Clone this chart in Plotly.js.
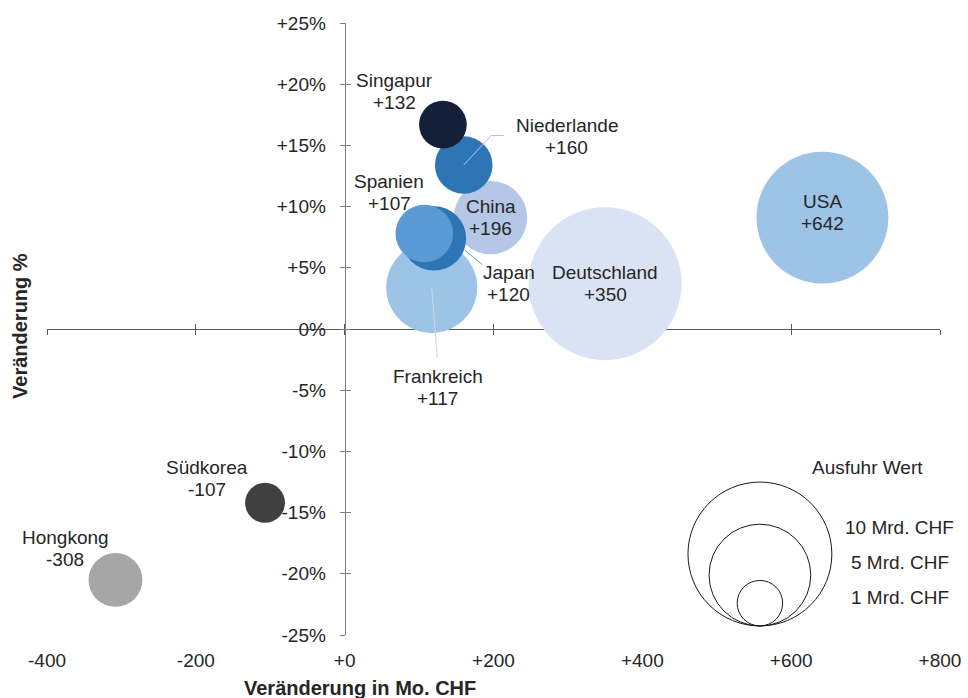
<!DOCTYPE html>
<html><head><meta charset="utf-8">
<script src="https://cdn.plot.ly/plotly-3.0.1.min.js"></script>
<style>html,body{margin:0;padding:0;background:#fff}#chart{width:968px;height:698px}</style>
</head><body><div id="chart"></div>
<script>
// ---- data ----
const countries     = ['Deutschland','USA','Frankreich','China','Niederlande','Japan','Spanien','Singapur','Hongkong','Südkorea'];
const changeMioCHF  = [350, 642, 117, 196, 160, 120, 107, 132, -308, -107];
const changePct     = [3.7, 9.1, 3.4, 9.1, 13.4, 7.4, 7.8, 16.7, -20.5, -14.2];
const exportMrdCHF  = [11.3, 8.4, 4.0, 2.6, 1.6, 2.0, 1.6, 1.1, 1.4, 0.77];
const bubbleColors  = ['#dae3f3','#9dc3e6','#9dc3e6','#b4c7e7','#2e75b6','#2e75b6','#5b9bd5','#141f38','#a6a6a6','#404040'];
const xTickVals = [-400,-200,0,200,400,600,800];
const xTickText = ['-400','-200','+0','+200','+400','+600','+800'];
const yTickVals = [-25,-20,-15,-10,-5,0,5,10,15,20,25];
const yTickText = ['-25%','-20%','-15%','-10%','-5%','0%','+5%','+10%','+15%','+20%','+25%'];
const legendValues = [10,5,1];
const legendLabels = ['10 Mrd. CHF','5 Mrd. CHF','1 Mrd. CHF'];

// ---- layout / styling constants ----
const FONT = 'Liberation Sans, Arial, sans-serif';
const TXT = '#262626';
const PX_PER_SQRT_MRD = 45.5;           // bubble diameter in px for 1 Mrd CHF
// label offsets (px, right / down) relative to each bubble centre
const labelDx = [0, 0, 6, 0, 103, 75, -35, -48, -50, -58];
const labelDy = [0, -5, 100, 0, -28, 45, -41, -33, -31, -24];
const LINE_GAP = 11;
const legendAnchorX = 558, legendAnchorY = -24.26;

const fmt = v => (v > 0 ? '+' + v : String(v));

const traces = [{
  type: 'scatter', mode: 'markers',
  x: changeMioCHF, y: changePct, text: countries,
  marker: {
    size: exportMrdCHF, sizemode: 'area', sizeref: 2 / (PX_PER_SQRT_MRD * PX_PER_SQRT_MRD),
    color: bubbleColors, opacity: 1, line: {width: 0}
  },
  hoverinfo: 'text', showlegend: false, cliponaxis: false
},
{type:'scatter', x: [], y: [], xaxis: 'x2', yaxis: 'y', showlegend: false, hoverinfo: 'skip'},
{type:'scatter', x: [], y: [], xaxis: 'x3', yaxis: 'y', showlegend: false, hoverinfo: 'skip'},
{type:'scatter', x: [], y: [], xaxis: 'x', yaxis: 'y2', showlegend: false, hoverinfo: 'skip'}];

const annotations = [];
countries.forEach((c, i) => {
  const base = {x: changeMioCHF[i], y: changePct[i], xref: 'x', yref: 'y', showarrow: false,
    xanchor: 'center', yanchor: 'middle', font: {family: FONT, size: 19, color: TXT}, xshift: labelDx[i]};
  annotations.push(Object.assign({}, base, {text: c, yshift: -labelDy[i] + LINE_GAP}));
  annotations.push(Object.assign({}, base, {text: fmt(changeMioCHF[i]), yshift: -labelDy[i] - LINE_GAP}));
});
// axis titles
annotations.push({text: '<b>Veränderung in Mo. CHF</b>', xref: 'paper', yref: 'paper', x: 0.3505, y: -0.0866,
  showarrow: false, xanchor: 'center', yanchor: 'middle', font: {family: FONT, size: 20, color: TXT}});
annotations.push({text: '<b>Veränderung %</b>', xref: 'paper', yref: 'paper', x: -0.0302, y: 0.505, textangle: -90,
  showarrow: false, xanchor: 'center', yanchor: 'middle', font: {family: FONT, size: 20, color: TXT}});
// size legend texts
annotations.push({text: 'Ausfuhr Wert', x: legendAnchorX, y: legendAnchorY, xref: 'x', yref: 'y', xshift: 108, yshift: 158,
  showarrow: false, xanchor: 'center', yanchor: 'middle', font: {family: FONT, size: 19, color: TXT}});
const legendShiftY = [98, 63, 28];
legendLabels.forEach((t, i) => annotations.push({text: t, x: legendAnchorX, y: legendAnchorY, xref: 'x', yref: 'y',
  xshift: 140, yshift: legendShiftY[i], showarrow: false, xanchor: 'center', yanchor: 'middle',
  font: {family: FONT, size: 19, color: TXT}}));

const shapes = [];
// size legend circles, bottoms aligned
legendValues.forEach(v => {
  const d = PX_PER_SQRT_MRD * Math.sqrt(v);
  shapes.push({type: 'circle', xref: 'x', yref: 'y', xsizemode: 'pixel', ysizemode: 'pixel',
    xanchor: legendAnchorX, yanchor: legendAnchorY, x0: -d / 2, x1: d / 2, y0: 0, y1: d,
    line: {color: '#1a1a1a', width: 1}, fillcolor: 'rgba(0,0,0,0)'});
});
// leader lines (pixel offsets relative to the bubble centre, y up)
function leader(name, x0, y0, x1, y1, color) {
  const i = countries.indexOf(name);
  shapes.push({type: 'line', xref: 'x', yref: 'y', xsizemode: 'pixel', ysizemode: 'pixel',
    xanchor: changeMioCHF[i], yanchor: changePct[i], x0, y0, x1, y1, line: {color, width: 1}});
}
leader('Niederlande', 0, 0, 27.5, 29.5, '#b4c7e7');
leader('Niederlande', 27.5, 29.5, 40, 29.5, '#bfbfbf');
leader('Japan', 31, -12, 48, -26, '#5b9bd5');
leader('Frankreich', 0, 0, 5.5, -70.5, '#c9d6ea');

const axisGray = '#7f7f7f';
const layout = {
  width: 968, height: 698,
  margin: {l: 47, r: 28, t: 23, b: 63},
  paper_bgcolor: '#fff', plot_bgcolor: '#fff',
  font: {family: FONT, size: 19, color: TXT},
  showlegend: false,
  xaxis: {range: [-400, 800], domain: [0, 1], anchor: 'y', showgrid: false, zeroline: false, showline: false,
    tickvals: xTickVals, ticktext: xTickText, ticks: 'outside', ticklen: 8, tickcolor: 'rgba(0,0,0,0)',
    tickfont: {family: FONT, size: 19, color: TXT}, fixedrange: true},
  xaxis2: {range: [-400, 800], overlaying: 'x', anchor: 'free', position: 0.5, showgrid: false, zeroline: false,
    showline: false, tickvals: xTickVals, showticklabels: false, ticks: 'outside', ticklen: 5, tickcolor: '#595959',
    layer: 'below traces'},
  xaxis3: {range: [-400, 800], overlaying: 'x', anchor: 'free', position: 0.5, showgrid: false, zeroline: false,
    showline: false, tickvals: xTickVals, showticklabels: false, ticks: 'inside', ticklen: 5, tickcolor: '#595959',
    layer: 'below traces'},
  yaxis: {range: [-25, 25], domain: [0, 1], anchor: 'free', position: 1 / 3, showgrid: false,
    zeroline: true, zerolinecolor: '#595959', zerolinewidth: 1,
    showline: true, linecolor: axisGray, linewidth: 1,
    tickvals: yTickVals, ticktext: yTickText, ticks: 'outside', ticklen: 5, tickcolor: axisGray,
    ticklabelstandoff: 10, tickfont: {family: FONT, size: 19, color: TXT}, fixedrange: true},
  yaxis2: {range: [-25, 25], overlaying: 'y', anchor: 'free', position: 1 / 3, showgrid: false, zeroline: false,
    showline: false, tickvals: yTickVals, showticklabels: false, ticks: 'inside', ticklen: 5, tickcolor: axisGray},
  annotations, shapes
};
Plotly.newPlot('chart', traces, layout, {displayModeBar: false, staticPlot: true});
</script></body></html>
